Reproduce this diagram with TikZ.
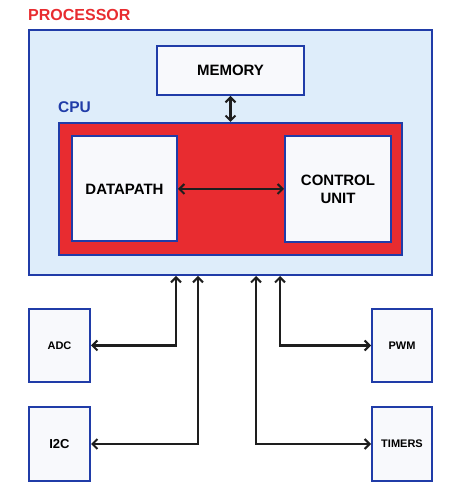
\documentclass[tikz,border=0pt]{standalone}
\usepackage{fontspec}
\setmainfont{Liberation Sans}
\usepackage{tikz}
\usepackage{xcolor}
\usetikzlibrary{shapes,arrows,arrows.meta,positioning,calc}

\definecolor{edgeblue}{RGB}{32,60,168}
\definecolor{procfill}{RGB}{222,237,250}
\definecolor{cpured}{RGB}{232,44,48}
\definecolor{boxfill}{RGB}{248,249,252}
\definecolor{wirecol}{RGB}{30,30,30}

\begin{document}
\begin{tikzpicture}[
    x=1pt, y=1pt,
    outer/.style={rectangle, draw=edgeblue, fill=procfill, line width=2pt, minimum width=403pt, minimum height=245pt},
    core/.style={rectangle, draw=edgeblue, fill=cpured, line width=2pt, minimum width=343pt, minimum height=132pt},
    unit/.style={rectangle, draw=edgeblue, fill=boxfill, line width=2pt, align=center, font=\fontsize{15}{18}\selectfont\bfseries},
    periph/.style={rectangle, draw=edgeblue, fill=boxfill, line width=2pt, minimum width=61pt, minimum height=73pt, font=\fontsize{11}{13}\selectfont\bfseries},
    title/.style={anchor=south west, inner sep=0pt, font=\fontsize{16}{19}\selectfont\bfseries},
    arrow/.style={{Straight Barb[length=5pt,width=10pt,line width=2pt]}-{Straight Barb[length=5pt,width=10pt,line width=2pt]}, line width=2.2pt, draw=wirecol}
]
\useasboundingbox (0,0) rectangle (450,496);

% Processor
\node[outer] (proc) at (230.5,343.5) {};
\node[title, text=cpured] (proclabel) at ($(proc.north west)+(0,8)$) {PROCESSOR};

% Memory
\node[unit, minimum width=147pt, minimum height=49pt] (mem) at (230.5,425.5) {MEMORY};

% CPU
\node[core] (cpu) at (230.5,307) {};
\node[title, text=edgeblue, font=\fontsize{15.5}{18}\selectfont\bfseries] (cpulabel) at ($(cpu.north west)+(0,9)$) {CPU};
\node[unit, minimum width=105pt, minimum height=105pt] (dp) at (124.5,307) {DATAPATH};
\node[unit, minimum width=106pt, minimum height=106pt] (cu) at (338,307) {CONTROL\\UNIT};

% Peripherals
\node[periph] (adc) at (59.5,150.5) {ADC};
\node[periph, minimum height=74pt, font=\fontsize{13}{15}\selectfont\bfseries] (i2c) at (59.5,52) {I2C};
\node[periph, minimum width=60pt] (pwm) at (402,150.5) {PWM};
\node[periph, minimum width=60pt, minimum height=74pt] (timers) at (402,52) {TIMERS};

% Bus taps
\coordinate (p1) at ($(proc.south west)+(148,0)$);
\coordinate (p2) at ($(proc.south west)+(170,0)$);
\coordinate (p3) at ($(proc.south west)+(228,0)$);
\coordinate (p4) at ($(proc.south west)+(252,0)$);

% Arrows
\draw[arrow] (mem) -- (cpu);
\draw[arrow] (dp) -- (cu);
\draw[arrow] (p1) |- (adc.east);
\draw[arrow] (p2) |- (i2c.east);
\draw[arrow] (p3) |- (timers.west);
\draw[arrow] (p4) |- (pwm.west);

\end{tikzpicture}
\end{document}
